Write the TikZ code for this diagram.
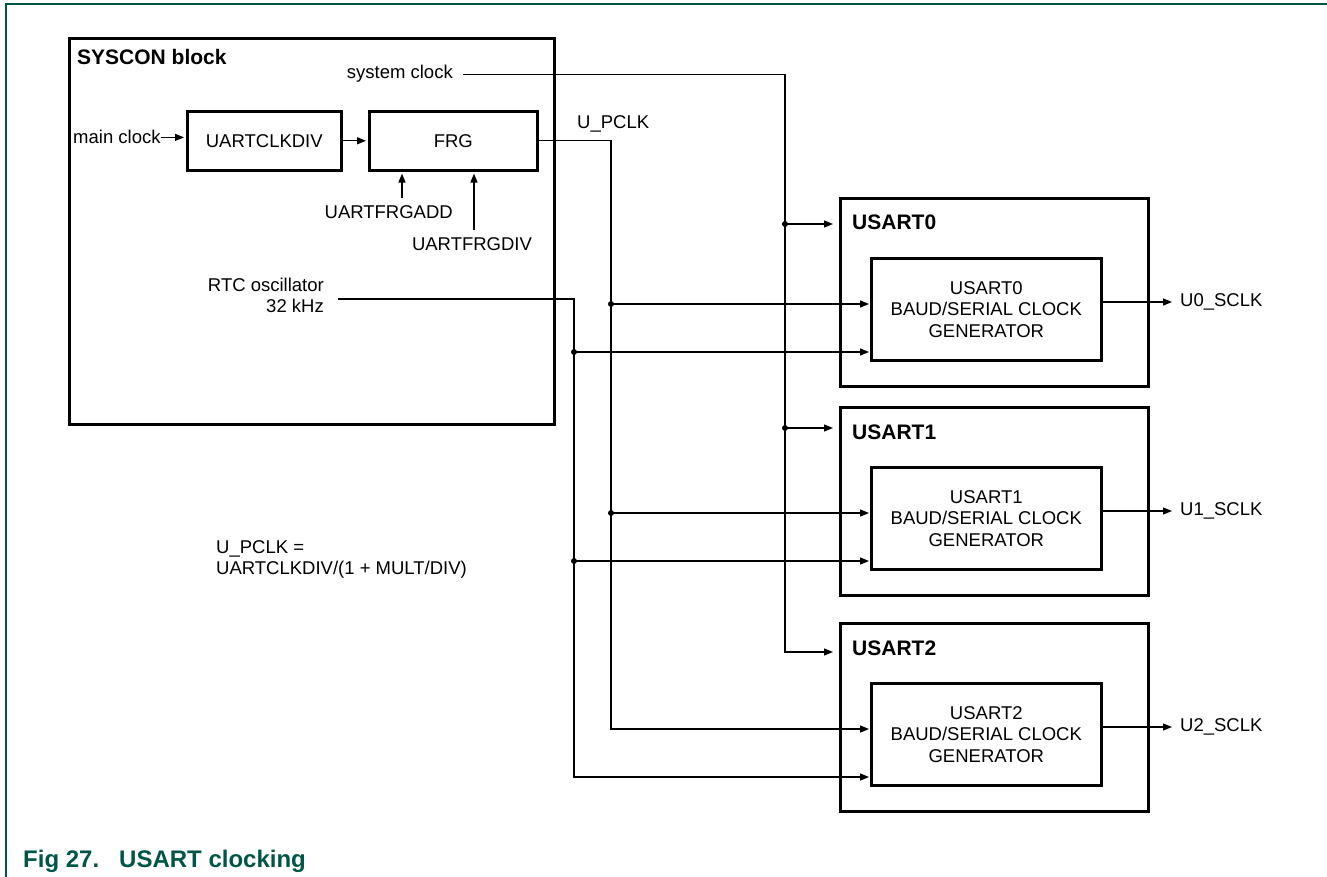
\documentclass[tikz,border=0pt]{standalone}
\usepackage{fontspec}
\setmainfont{Liberation Sans}
\usepackage{xcolor}
\usetikzlibrary{arrows.meta}

\definecolor{nxpgreen}{RGB}{0,86,70}

\tikzset{
  blockbox/.style={draw, line width=2.6pt, anchor=north west, inner sep=0pt},
  genbox/.style={blockbox, minimum width=230pt, minimum height=102pt, align=center, font=\fontsize{18.5}{21.5}\selectfont},
  txt/.style={inner sep=0pt, font=\fontsize{18.5}{21.5}\selectfont},
  titletxt/.style={inner sep=0pt, font=\fontsize{21}{24}\selectfont\bfseries},
  wire/.style={line width=1.3pt},
  arr/.style={wire, -{Triangle[length=9pt,width=7pt]}},
  jdot/.style={circle, fill, inner sep=0pt, minimum size=6pt},
  frameline/.style={draw=nxpgreen, line width=1.8pt},
}

\begin{document}
\begin{tikzpicture}[x=1pt,y=1pt,yscale=-1]
\useasboundingbox (0,0) rectangle (1327,877);

%Frame
\draw[frameline] (1327,4) -- (6,4) -- (6,877);

%Rect SYSCON
\node (syscon) [blockbox, minimum width=485pt, minimum height=386pt] at (68,37) {};
\node (sysconlbl) [titletxt, anchor=base west] at (77,65) {SYSCON block};

%Rect UARTCLKDIV and FRG
\node (clkdiv) [blockbox, minimum width=154pt, minimum height=59pt, font=\fontsize{18.5}{21.5}\selectfont] at (186,110) {UARTCLKDIV};
\node (frg) [blockbox, minimum width=168pt, minimum height=59pt, font=\fontsize{18.5}{21.5}\selectfont] at (368,110) {FRG};

% Text Node
\node (mainclk) [txt, anchor=base west] at (73,144) {main clock};
\node (sysclk) [txt, anchor=base east] at (453,79) {system clock};
\node (upclk) [txt, anchor=base west] at (577,129) {U\_PCLK};
\node (frgadd) [txt, anchor=base east] at (453,219) {UARTFRGADD};
\node (frgdiv) [txt, anchor=base] at (472,251) {UARTFRGDIV};
\node (rtc) [txt, anchor=east, align=right] at (324,295.5) {RTC oscillator\\32 kHz};
\node (formula) [txt, anchor=north west, align=left] at (216,540) {U\_PCLK =\\UARTCLKDIV/(1 + MULT/DIV)};
\coordinate (rtcout) at (338,299);
\coordinate (addin) at (402,198);
\coordinate (divin) at (474,230);

%Rect USART blocks
\foreach \i/\top/\sys in {0/197/224,1/406/428,2/622/652}{
  \node (usart\i) [blockbox, minimum width=308pt, minimum height=188pt] at (839,\top) {};
  \node (usart\i lbl) [titletxt, anchor=base west] at (852,\top+33) {USART\i};
  \node (gen\i) [genbox] at (870,\top+60) {USART\i\\BAUD/SERIAL CLOCK\\GENERATOR};
  \coordinate (s\i) at (785,\sys);
  \coordinate (p\i) at (611,\top+107);
  \coordinate (r\i) at (574,\top+155);
  \coordinate (o\i) at (1172,\top+105);
  \draw[arr] (o\i -| gen\i.east) -- (o\i);
  \node (sclk\i) [txt, anchor=west] at ([xshift=8pt]o\i) {U\i\_SCLK};
}

%Straight Lines
\draw[arr, shorten >=2pt] (mainclk.east) -- (mainclk.east -| clkdiv.west);
\draw[arr, shorten >=2pt] (clkdiv.east) -- (frg.west);
\draw[arr, shorten >=2pt] (addin) -- (addin |- frg.south);
\draw[arr, shorten >=2pt] (divin) -- (divin |- frg.south);

%Straight Lines (clock buses)
\draw[arr, shorten <=10pt, shorten >=6pt] (sysclk.east) -| (s2) -- (s2 -| usart2.west);
\draw[arr, shorten >=1pt] (frg.east) -| (p2) -- (p2 -| gen2.west);
\draw[arr, shorten >=1pt] (rtcout) -| (r2) -- (r2 -| gen2.west);
\foreach \i in {0,1}{
  \draw[arr, shorten >=6pt] (s\i) -- (s\i -| usart\i.west);
  \draw[arr, shorten >=1pt] (p\i) -- (p\i -| gen\i.west);
  \draw[arr, shorten >=1pt] (r\i) -- (r\i -| gen\i.west);
  \node (sdot\i) [jdot] at (s\i) {};
  \node (pdot\i) [jdot] at (p\i) {};
  \node (rdot\i) [jdot] at (r\i) {};
}

% Text Node
\node (caption) [anchor=base west, inner sep=0pt, text=nxpgreen, font=\fontsize{24}{28}\selectfont\bfseries] at (23,867) {Fig 27.\hspace{20pt}USART clocking};

\end{tikzpicture}
\end{document}
